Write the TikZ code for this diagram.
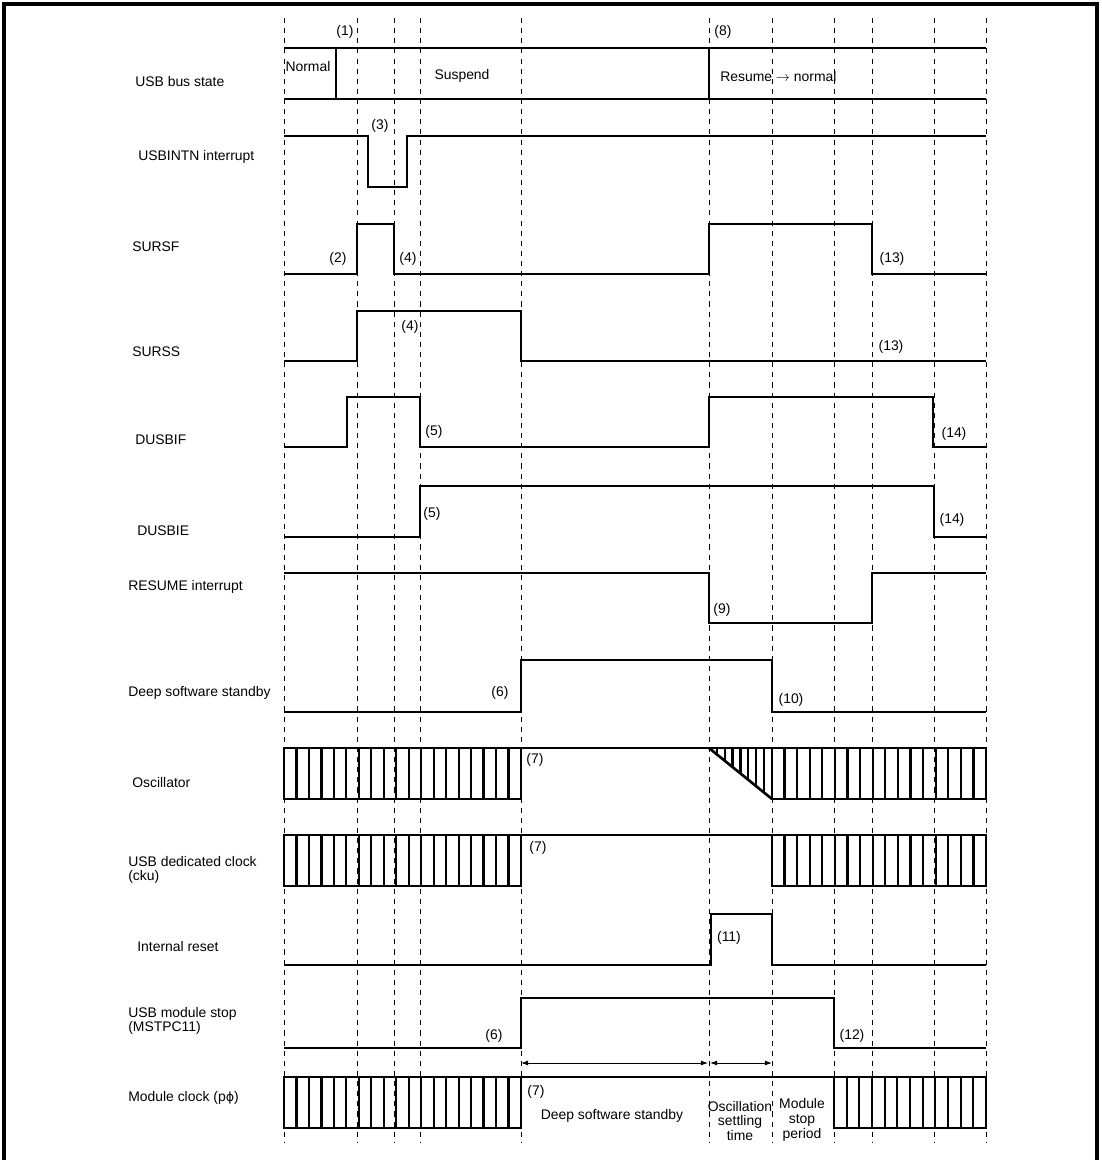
\documentclass[tikz,border=0pt]{standalone}
\usepackage{fontspec}
\setmainfont{Liberation Sans}
\newfontfamily\symfont{DejaVu Sans}
\usetikzlibrary{arrows.meta}

\begin{document}
\begin{tikzpicture}[
  x=0.025cm, y=-0.025cm,
  font=\fontsize{9.9}{10.5}\selectfont,
  wave/.style={line width=1.9pt},
  hatch/.style={line width=1.6pt},
  grid/.style={line width=0.6pt, dash pattern=on 3.6pt off 3.6pt},
  lbl/.style={anchor=west, align=left, inner sep=0pt},
  tag/.style={inner sep=0pt},
  span/.style={{Latex[length=5pt,width=3.5pt]}-{Latex[length=5pt,width=3.5pt]}, line width=0.6pt}
]
\useasboundingbox (0,0) rectangle (1102,1160);
\draw[line width=2.2pt] (4,1170) -- (4,4) -- (1097,4) -- (1097,1170);

\foreach \x in {284,357,394,420,521,709,772,834,872,934,986}
  \draw[grid] (\x,18) -- (\x,1143);

\node[lbl] (bus) at (135,82) {USB bus state};
\node[lbl] (intn) at (138,157) {USBINTN interrupt};
\node[lbl] (sursf) at (132,247) {SURSF};
\node[lbl] (surss) at (132,352) {SURSS};
\node[lbl] (dusbif) at (135,440) {DUSBIF};
\node[lbl] (dusbie) at (137,531) {DUSBIE};
\node[lbl] (resume) at (128,587) {RESUME interrupt};
\node[lbl] (dss) at (128,693) {Deep software standby};
\node[lbl] (osc) at (132,783) {Oscillator};
\node[lbl] (cku) at (128,870) {USB dedicated clock\\(cku)};
\node[lbl] (rst) at (137,947) {Internal reset};
\node[lbl] (mstp) at (128,1021) {USB module stop\\(MSTPC11)};
\node[lbl] (pclk) at (128,1098) {Module clock (p{\symfont\fontsize{9}{10}\selectfont ϕ})};

\draw[wave] (284,48) -- (986,48) (284,99) -- (986,99) (336,48) -- (336,99) (709,48) -- (709,99);
\draw[wave] (284,136) -- (368,136) -- (368,187) -- (407,187) -- (407,136) -- (986,136);
\draw[wave] (284,274) -- (357,274) -- (357,224) -- (394,224) -- (394,274) -- (709,274) -- (709,224) -- (872,224) -- (872,274) -- (986,274);
\draw[wave] (284,361) -- (357,361) -- (357,311) -- (521,311) -- (521,361) -- (986,361);
\draw[wave] (284,447) -- (347,447) -- (347,397) -- (420,397) -- (420,447) -- (709,447) -- (709,397) -- (933,397) -- (933,447) -- (986,447);
\draw[wave] (284,537) -- (420,537) -- (420,486) -- (934,486) -- (934,537) -- (986,537);
\draw[wave] (284,573) -- (709,573) -- (709,623) -- (872,623) -- (872,573) -- (986,573);
\draw[wave] (284,712) -- (521,712) -- (521,660) -- (772,660) -- (772,712) -- (986,712);
\draw[wave] (284,965) -- (711,965) -- (711,914) -- (772,914) -- (772,965) -- (986,965);
\draw[wave] (284,1048) -- (521,1048) -- (521,998) -- (834,998) -- (834,1048) -- (986,1048);

\foreach \y in {748,835,1077}
  \draw[wave] (284,\y) -- (986,\y);
\foreach \y/\xa/\xb/\n in {748/284/521/19, 748/772/986/17, 835/284/521/19, 835/772/986/17, 1077/284/521/19, 1077/834/986/12} {
  \draw[wave] (\xa,\y) rectangle (\xb,{\y+51});
  \foreach \i in {1,...,\n}
    \draw[hatch] ({\xa+(\xb-\xa)*\i/\n},\y) -- ++(0,51);
}
\draw[wave] (709,748) -- (772,799);
\foreach \k in {1,...,7}
  \draw[hatch] ({709+7.85*\k},748) -- ({709+7.85*\k},{748+7.85*\k*51/63});

\node (normal) at (308,67) {Normal};
\node (suspend) at (462,76) {Suspend};
\node[anchor=west, inner sep=0pt] (resnorm) at (720,77) {Resume $\rightarrow$ normal};

\node[tag] (t1) at (345,32) {(1)};
\node[tag] (t8) at (723,32) {(8)};
\node[tag] (t3) at (380,126) {(3)};
\node[tag] (t2) at (338,259) {(2)};
\node[tag] (t4a) at (408,259) {(4)};
\node[tag] (t13a) at (892,259) {(13)};
\node[tag] (t4b) at (410,327) {(4)};
\node[tag] (t13b) at (891,347) {(13)};
\node[tag] (t5a) at (434,432) {(5)};
\node[tag] (t14a) at (954,434) {(14)};
\node[tag] (t5b) at (432,514) {(5)};
\node[tag] (t14b) at (952,520) {(14)};
\node[tag] (t9) at (722,610) {(9)};
\node[tag] (t6a) at (500,693) {(6)};
\node[tag] (t10) at (791,700) {(10)};
\node[tag] (t7a) at (535,760) {(7)};
\node[tag] (t7b) at (538,848) {(7)};
\node[tag] (t11) at (729,938) {(11)};
\node[tag] (t6b) at (494,1036) {(6)};
\node[tag] (t12) at (852,1036) {(12)};
\node[tag] (t7c) at (536,1092) {(7)};

\coordinate (dssL) at (521,1063);
\coordinate (dssR) at (708,1063);
\coordinate (oscL) at (710,1063);
\coordinate (oscR) at (772,1063);
\draw[span] (dssL) -- (dssR);
\draw[span] (oscL) -- (oscR);

\node[tag] (dssnote) at (612,1116) {Deep software standby};
\node[tag, align=center] (oscnote) at (740,1121) {Oscillation\\settling\\time};
\node[tag, align=center] (stopnote) at (802,1120) {Module\\stop\\period};
\end{tikzpicture}
\end{document}
